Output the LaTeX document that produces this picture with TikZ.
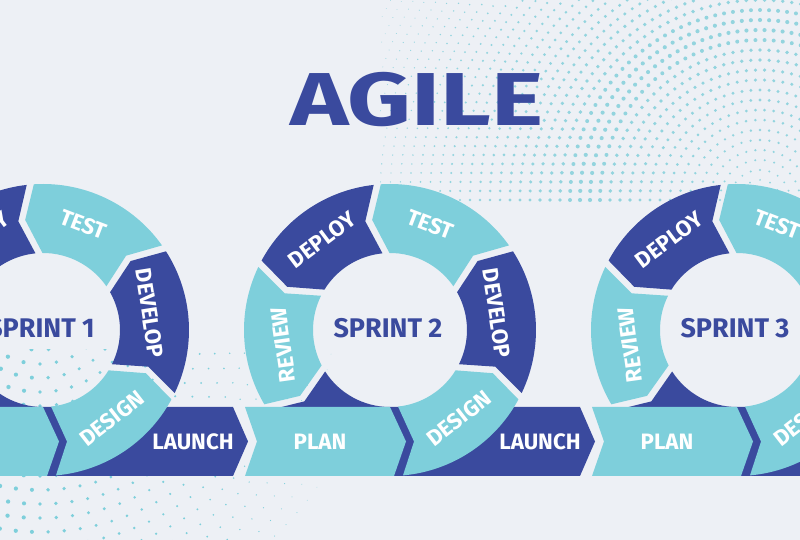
\documentclass[tikz,border=0pt]{standalone}
\usepackage{fontspec}
\setmainfont{Fira Sans}
\newfontfamily\titlefont{Fira Sans}[FakeStretch=1.32]
\definecolor{agbg}{HTML}{EDF0F5}
\definecolor{agdark}{HTML}{3A4A9E}
\definecolor{aglight}{HTML}{7ECFDB}
\definecolor{agdot}{HTML}{93D4DE}
% ring piece: notch at #1, arrow tip at #2 (counter-clockwise)
\newcommand{\ringseg}[3]{%
  \fill[#3] ({#1-2+2.6}:77) -- ({#1+6+1.8}:111.5) -- ({#1+1.4}:146)
    arc[start angle={#1+1.4}, end angle={#2-1.4}, radius=146]
    -- ({#2+6-1.8}:111.5) -- ({#2-2-2.6}:77)
    arc[start angle={#2-2-2.6}, end angle={#1-2+2.6}, radius=77] -- cycle;}
\begin{document}
\begin{tikzpicture}[x=0.03cm, y=0.03cm,
    seglabel/.style={text=white, font=\bfseries\fontsize{19}{19}\selectfont, inner sep=0pt},
    sprintlabel/.style={text=agdark, font=\bfseries\fontsize{23}{23}\selectfont, inner sep=0pt}]
  \useasboundingbox (0,0) rectangle (800,540);
  \clip (0,0) rectangle (800,540);
  \fill[agbg] (0,0) rectangle (800,540);
  % halftone dots, top right
  \begin{scope}
    \clip (380,335) rectangle (800,540);
    \foreach \r in {20,30,...,420}{
      \pgfmathtruncatemacro\n{3.1416*\r/9}
      \pgfmathsetmacro\st{180/\n}
      \pgfmathsetmacro\s{max(0.35,2.1-abs(\r-175)/140)}
      \foreach \k in {0,...,\n}{
        \fill[agdot] (760,340) ++({\st*\k}:\r) circle[radius=\s];
      }
    }
  \end{scope}
  % halftone dots, bottom left
  \begin{scope}
    \clip (0,0) rectangle (340,190);
    \foreach \r in {60,74,...,340}{
      \pgfmathtruncatemacro\n{3.1416*\r/16}
      \pgfmathsetmacro\st{180/\n}
      \foreach \k in {0,...,\n}{
        \pgfmathsetmacro\a{180+\st*\k}
        \pgfmathsetmacro\s{max(0.3,2.2-(40+\r*cos(\a))/170)}
        \fill[aglight] (40,250) ++(\a:\r) circle[radius=\s];
      }
    }
  \end{scope}
  \node[text=agdark, font=\titlefont\bfseries\fontsize{64}{64}\selectfont, inner sep=0pt] (title) at (417,440) {AGILE};
  \foreach \cx/\num in {43/1,390/2,737/3}{
    \begin{scope}[shift={(\cx,210)}]
      % dark link down into the launch band
      \fill[agdark] ({212-2+2.6}:77) -- ({212+6+1.8}:111.5) -- ({212+1.4}:146)
        arc[start angle={212+1.4}, end angle=270, radius=146]
        -- (190,-146) -- (205,-111.5) -- (190,-77) -- (0,-77)
        arc[start angle=270, end angle={212-2+2.6}, radius=77] -- cycle;
      % plan band
      \fill[aglight] (-145,-77) -- (0,-77) -- (16,-111.5) -- (4,-146)
        -- (-145,-146) -- (-133,-111.5) -- cycle;
      % design
      \fill[aglight] (275.1:146) -- (24,-111.5) -- (276:77)
        arc[start angle=276, end angle={333-2-2.6}, radius=77]
        -- ({333+6-1.8}:111.5) -- ({333-1.4}:146)
        arc[start angle={333-1.4}, end angle=275.1, radius=146] -- cycle;
      \ringseg{-27}{34}{agdark}
      \ringseg{34}{95}{aglight}
      \ringseg{95}{153}{agdark}
      \ringseg{153}{212}{aglight}
      \node[seglabel, rotate=-21] (test\num) at (69:113) {TEST};
      \node[seglabel, rotate=37] (deploy\num) at (127:113) {DEPLOY};
      \node[seglabel, rotate=-81] (develop\num) at (9:108) {DEVELOP};
      \node[seglabel, rotate=98] (review\num) at (188:108) {REVIEW};
      \node[seglabel, rotate=38] (design\num) at (308:112) {DESIGN};
      \node[seglabel] (plan\num) at (-70,-111.5) {PLAN};
      \node[seglabel] (launch\num) at (150,-111.5) {LAUNCH};
      \node[sprintlabel] (sprint\num) at (-2,2) {SPRINT \num};
    \end{scope}
  }
\end{tikzpicture}
\end{document}
